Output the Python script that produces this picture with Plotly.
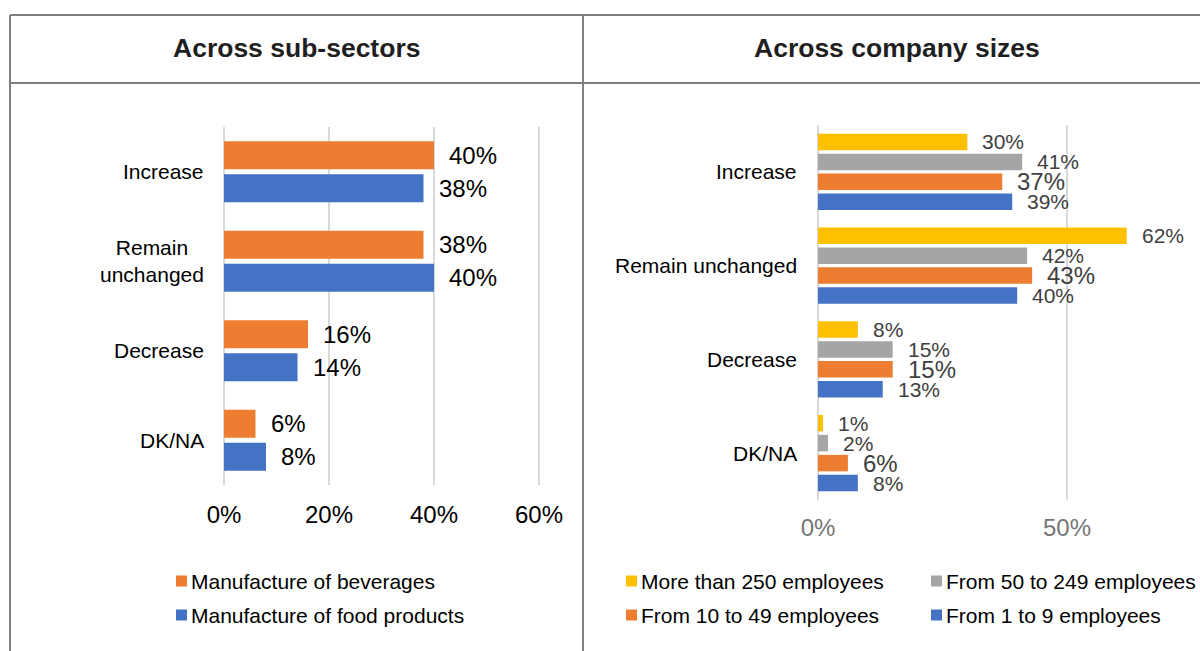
import plotly.graph_objects as go

W, H = 1200, 651
FONT = "Liberation Sans, Arial, sans-serif"

# ---- Sub-sector panel data ----
sector_categories = ["Increase", "Remain<br>unchanged", "Decrease", "DK/NA"]
beverages = [40, 38, 16, 6]
food_products = [38, 40, 14, 8]
sector_ticks = [0, 20, 40, 60]

# ---- Company size panel data ----
size_categories = ["Increase", "Remain unchanged", "Decrease", "DK/NA"]
more_than_250 = [30, 62, 8, 1]
from_50_to_249 = [41, 42, 15, 2]
from_10_to_49 = [37, 43, 15, 6]
from_1_to_9 = [39, 40, 13, 8]
size_ticks = [0, 50, 100]

ORANGE, BLUE, GREY, GOLD = "#ED7D31", "#4472C4", "#A5A5A5", "#FFC000"


def fx(px):
    return px / W


def fy(py):
    return 1 - py / H


fig = go.Figure()
annotations = []
shapes = []

# ---------------- left panel: grouped bars (2 series) ----------------
L_X0, L_PXPER = 224, 5.25           # pixel of 0% and pixels per percent
L_DOM = (222, 545)
L_TOP, L_BOT = 127, 485
left_series = [
    ("Manufacture of beverages", beverages, ORANGE),
    ("Manufacture of food products", food_products, BLUE),
]
l_slot, l_width = 0.1844, 0.313
for k, (name, vals, col) in enumerate(left_series):
    off = (k - 0.5) * 2 * l_slot
    ys = [i + off for i in range(len(vals))]
    fig.add_trace(go.Bar(
        name=name, orientation="h", x=vals, y=ys, width=l_width,
        marker=dict(color=col, line=dict(width=0)),
        xaxis="x", yaxis="y", showlegend=False, hoverinfo="skip",
    ))
    for v, yv in zip(vals, ys):
        annotations.append(dict(
            x=v, y=yv, xref="x", yref="y", text=f"{v}%", showarrow=False,
            xanchor="left", yanchor="middle", xshift=14, borderpad=0,
            font=dict(family=FONT, size=24, color="#000000"),
        ))

for i, cat in enumerate(sector_categories):
    annotations.append(dict(
        x=fx(206), y=i, xref="paper", yref="y", text=cat, showarrow=False,
        xanchor="right", yanchor="middle", align="center",
        font=dict(family=FONT, size=21, color="#000000"),
    ))

# ---------------- right panel: grouped bars (4 series) ----------------
R_X0, R_PXPER = 818, 4.98
R_DOM = (816, 1200)
R_TOP, R_BOT = 125, 500
right_series = [
    ("More than 250 employees", more_than_250, GOLD, 21),
    ("From 50 to 249 employees", from_50_to_249, GREY, 21),
    ("From 10 to 49 employees", from_10_to_49, ORANGE, 24),
    ("From 1 to 9 employees", from_1_to_9, BLUE, 21),
]
r_slot, r_width = 0.2133, 0.176
for k, (name, vals, col, fs) in enumerate(right_series):
    off = (k - 1.5) * r_slot
    ys = [i + off for i in range(len(vals))]
    fig.add_trace(go.Bar(
        name=name, orientation="h", x=vals, y=ys, width=r_width,
        marker=dict(color=col, line=dict(width=0)),
        xaxis="x2", yaxis="y2", showlegend=False, hoverinfo="skip",
    ))
    for v, yv in zip(vals, ys):
        annotations.append(dict(
            x=v, y=yv, xref="x2", yref="y2", text=f"{v}%", showarrow=False,
            xanchor="left", yanchor="middle", xshift=14, borderpad=0,
            font=dict(family=FONT, size=fs, color="#404040"),
        ))

for i, cat in enumerate(size_categories):
    annotations.append(dict(
        x=fx(799), y=i, xref="paper", yref="y2", text=cat, showarrow=False,
        xanchor="right", yanchor="middle",
        font=dict(family=FONT, size=21, color="#000000"),
    ))

# ---------------- headers ----------------
for txt, cx in [("Across sub-sectors", 296.5), ("Across company sizes", 897)]:
    annotations.append(dict(
        x=fx(cx), y=fy(48), xref="paper", yref="paper", text=f"<b>{txt}</b>",
        showarrow=False, xanchor="center", yanchor="middle",
        font=dict(family=FONT, size=26.5, color="#1f1f1f"),
    ))

# ---------------- legends ----------------
legend_items = [
    # (label, colour, square left px, row centre px)
    ("Manufacture of beverages", ORANGE, 176, 581),
    ("Manufacture of food products", BLUE, 176, 615),
    ("More than 250 employees", GOLD, 626, 581),
    ("From 50 to 249 employees", GREY, 931, 581),
    ("From 10 to 49 employees", ORANGE, 626, 615),
    ("From 1 to 9 employees", BLUE, 931, 615),
]
for label, col, sx, ry in legend_items:
    shapes.append(dict(
        type="rect", xref="paper", yref="paper",
        x0=fx(sx), x1=fx(sx + 11), y0=fy(ry + 5.5), y1=fy(ry - 5.5),
        fillcolor=col, line=dict(width=0),
    ))
    annotations.append(dict(
        x=fx(sx + 14), y=fy(ry), xref="paper", yref="paper", text=label,
        showarrow=False, xanchor="left", yanchor="middle", borderpad=0,
        font=dict(family=FONT, size=21, color="#000000"),
    ))

# ---------------- table borders ----------------
BORDER = dict(color="#7f7f7f", width=2)
for y in (15, 83):
    shapes.append(dict(type="line", xref="paper", yref="paper",
                       x0=fx(10), x1=1, y0=fy(y), y1=fy(y), line=BORDER))
for x in (10, 583):
    shapes.append(dict(type="line", xref="paper", yref="paper",
                       x0=fx(x), x1=fx(x), y0=fy(15), y1=0, line=BORDER))

grid = dict(showgrid=True, gridcolor="#d9d9d9", gridwidth=2, zeroline=False,
            showline=False, ticks="", automargin=False)

fig.update_layout(
    width=W, height=H,
    margin=dict(l=0, r=0, t=0, b=0, pad=0, autoexpand=False),
    paper_bgcolor="white", plot_bgcolor="white",
    showlegend=False,
    barmode="overlay",
    xaxis=dict(
        domain=[fx(L_DOM[0]), fx(L_DOM[1])],
        range=[(L_DOM[0] - L_X0) / L_PXPER, (L_DOM[1] - L_X0) / L_PXPER],
        tickvals=sector_ticks, ticktext=[f"{t}%" for t in sector_ticks],
        anchor="y",
        tickfont=dict(family=FONT, size=24, color="#000000"),
        ticklabelstandoff=13, **grid,
    ),
    yaxis=dict(
        domain=[fy(L_BOT), fy(L_TOP)], range=[3.5, -0.5], anchor="x",
        showticklabels=False, showgrid=False, zeroline=False, automargin=False,
    ),
    xaxis2=dict(
        domain=[fx(R_DOM[0]), fx(R_DOM[1])],
        range=[(R_DOM[0] - R_X0) / R_PXPER, (R_DOM[1] - R_X0) / R_PXPER],
        tickvals=size_ticks, ticktext=[f"{t}%" for t in size_ticks],
        anchor="y2",
        tickfont=dict(family=FONT, size=24, color="#767676"),
        ticklabelstandoff=11, **grid,
    ),
    yaxis2=dict(
        domain=[fy(R_BOT), fy(R_TOP)], range=[3.5, -0.5], anchor="x2",
        showticklabels=False, showgrid=False, zeroline=False, automargin=False,
    ),
    annotations=annotations,
    shapes=shapes,
)

fig.write_html("out.html")
